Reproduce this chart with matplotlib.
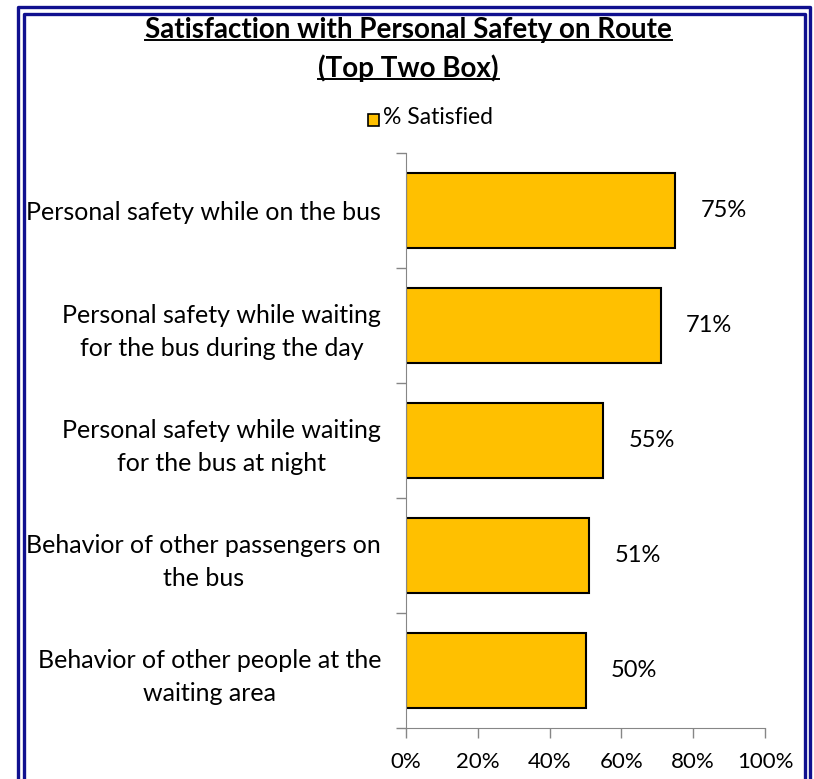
import matplotlib.pyplot as plt
from matplotlib.patches import Rectangle
from matplotlib.lines import Line2D

# Données
categories = [
    "Personal safety while on the bus",
    "Personal safety while waiting\nfor the bus during the day",
    "Personal safety while waiting\nfor the bus at night",
    "Behavior of other passengers on\nthe bus",
    "Behavior of other people at the\nwaiting area",
]
satisfied = [75, 71, 55, 51, 50]
xticks = [0, 20, 40, 60, 80, 100]
xtick_labels = ["0%", "20%", "40%", "60%", "80%", "100%"]

plt.rcParams['font.family'] = ['Lato', 'DejaVu Sans']

W, H = 814, 779
fig = plt.figure(figsize=(W / 100, H / 100), dpi=100)
ax = fig.add_axes([406 / W, 1 - 728 / H, (765 - 406) / W, (728 - 153) / H])

ypos = list(range(len(categories)))[::-1]
ax.barh(ypos, satisfied, height=0.66, color='#FFC000', edgecolor='black', linewidth=1.5)

for y, v in zip(ypos, satisfied):
    ax.text(v + 13.5, y, f"{v}%", va='center', ha='center', fontsize=17)

ax.set_xlim(0, 100)
ax.set_ylim(-0.5, len(categories) - 0.5)
ax.set_xticks(xticks)
ax.set_xticklabels(xtick_labels, fontsize=16)
ax.set_yticks(ypos)
ax.set_yticklabels(categories, fontsize=18, multialignment='center', linespacing=1.5)
ax.set_yticks([i - 0.5 for i in range(len(categories) + 1)], minor=True)
ax.tick_params(axis='y', which='major', length=0, pad=18)
ax.tick_params(axis='y', which='minor', length=7, color='#868686', width=1)
ax.tick_params(axis='x', length=7, color='#868686', width=1, pad=10)
for s in ['top', 'right']:
    ax.spines[s].set_visible(False)
for s in ['left', 'bottom']:
    ax.spines[s].set_color('#868686')

# Titre souligné
t1 = fig.text(0.502, 1 - 30 / H, "Satisfaction with Personal Safety on Route",
              ha='center', va='center', fontsize=20, fontweight='bold')
t2 = fig.text(0.502, 1 - 68 / H, "(Top Two Box)",
              ha='center', va='center', fontsize=20, fontweight='bold')
fig.canvas.draw()
r = fig.canvas.get_renderer()
for t in (t1, t2):
    bb = t.get_window_extent(r)
    yline = bb.y0 + 3
    fig.add_artist(Line2D([bb.x0 / W, bb.x1 / W], [yline / H, yline / H],
                          color='black', linewidth=1.4, transform=fig.transFigure))

# Légende
fig.add_artist(Rectangle((368 / W, 1 - 126 / H), 11 / W, 12 / H, facecolor='#FFC000',
                         edgecolor='black', linewidth=1.2, transform=fig.transFigure))
fig.text(383 / W, 1 - 118 / H, "% Satisfied", ha='left', va='center', fontsize=16.5)

# Double bordure bleue
for (x0, y0, x1) in [(17.5, 7, 810), (23.5, 14, 804.5)]:
    fig.add_artist(Line2D([x0 / W, x0 / W, x1 / W, x1 / W], [-0.05, 1 - y0 / H, 1 - y0 / H, -0.05],
                          color='#10108f', linewidth=2.4, transform=fig.transFigure))

plt.savefig('out.png', dpi=100)
